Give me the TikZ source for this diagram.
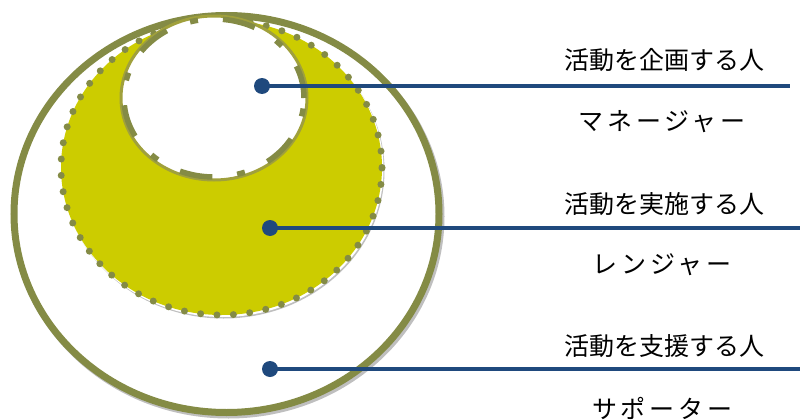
\documentclass[tikz,border=0pt]{standalone}
\usepackage{fontspec}
\newfontfamily\jp{Noto Sans CJK JP}
\definecolor{oliveC}{RGB}{132,139,69}
\definecolor{oliveL}{RGB}{160,160,60}
\definecolor{yellowC}{RGB}{204,204,0}
\definecolor{shadowC}{RGB}{191,191,191}
\definecolor{blueC}{RGB}{31,73,125}
\tikzset{
  dotn/.style={circle, fill=blueC, inner sep=0pt, minimum size=16pt},
  conn/.style={draw=blueC, line width=4pt},
  lbl/.style={font=\jp\fontsize{25}{30}\selectfont, anchor=base, inner sep=0pt},
  kana/.style={lbl, font=\jp\fontsize{25}{30}\selectfont\addfontfeature{LetterSpace=15}},
}
\begin{document}
\begin{tikzpicture}[x=1pt,y=-1pt]
\useasboundingbox (0,0) rectangle (800,420);
% outer circle (supporters)
\draw[shadowC, line width=7pt] (228.5,216.5) ellipse [x radius=212.5pt, y radius=198.5pt];
\draw[oliveC, line width=7pt, fill=white] (226.5,214) ellipse [x radius=212.5pt, y radius=198.5pt];
% middle circle (rangers)
\fill[shadowC] (223.5,170.5) ellipse [x radius=161pt, y radius=148pt];
\fill[white] (222.5,169) ellipse [x radius=161pt, y radius=148pt];
\fill[yellowC] (221.5,167.5) ellipse [x radius=160.5pt, y radius=147.5pt];
\draw[oliveC, line width=7pt, line cap=round, dash pattern=on 0pt off 16.4pt] (221.5,167.5) ellipse [x radius=160.5pt, y radius=147.5pt];
% inner circle (managers)
\draw[oliveL, line width=3pt, fill=white] (214,98) ellipse [x radius=93pt, y radius=82pt];
\draw[oliveC, line width=5.5pt, dash pattern=on 33pt off 25pt on 8pt off 25pt] (214,98) ellipse [x radius=90pt, y radius=79pt];
% connectors
\node[dotn] (d1) at (262,86) {};
\node[dotn] (d2) at (270,228) {};
\node[dotn] (d3) at (270,369) {};
\coordinate (e1) at (790,86);
\coordinate (e2) at (800,228);
\coordinate (e3) at (800,369);
\draw[conn] (d1.center) -- (e1);
\draw[conn] (d2.center) -- (e2);
\draw[conn] (d3.center) -- (e3);
% labels
\node[lbl] (t1) at (664,70) {活動を企画する人};
\node[kana] (t2) at (662,130) {マネージャー};
\node[lbl] (t3) at (664,213) {活動を実施する人};
\node[kana] (t4) at (662,273) {レンジャー};
\node[lbl] (t5) at (664,355) {活動を支援する人};
\node[kana] (t6) at (662,418) {サポーター};
\end{tikzpicture}
\end{document}
